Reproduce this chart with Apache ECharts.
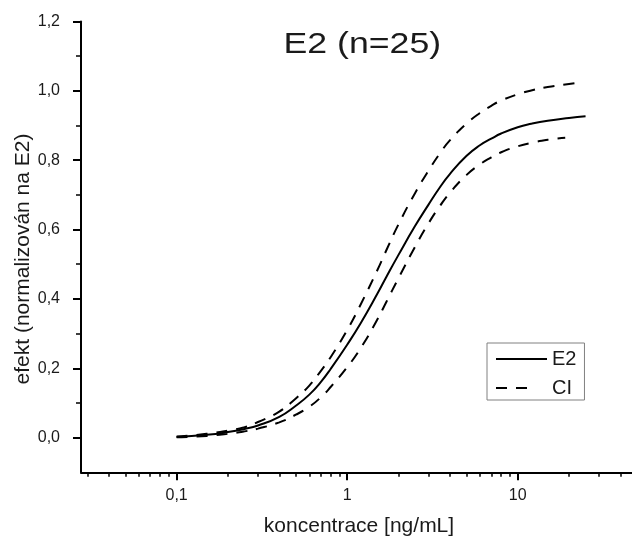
<!DOCTYPE html>
<html>
<head>
<meta charset="utf-8">
<title>E2 (n=25)</title>
<script src="https://cdn.jsdelivr.net/npm/echarts@6/dist/echarts.min.js"></script>
<style>
  html, body { margin: 0; padding: 0; background: #fff; }
  #chart { width: 632px; height: 539px; }
</style>
</head>
<body>
<div id="chart"></div>
<script>
// Dose–response curve for E2 with its confidence band (log concentration axis)
const e2Conc   = [0.1, 0.15, 0.2, 0.25, 0.3, 0.4, 0.5, 0.6, 0.7, 0.8, 1, 1.2, 1.5, 1.7, 2, 2.5, 3, 3.5, 4, 5, 6, 7, 8, 10, 12, 15, 20, 25];
const e2Effect = [0.002, 0.008, 0.016, 0.025, 0.035, 0.060, 0.092, 0.124, 0.160, 0.198, 0.268, 0.330, 0.414, 0.464, 0.527, 0.610, 0.672, 0.722, 0.760, 0.812, 0.843, 0.862, 0.877, 0.895, 0.905, 0.914, 0.922, 0.927];

const ciUpperConc   = [0.1, 0.15, 0.2, 0.25, 0.3, 0.4, 0.5, 0.6, 0.7, 0.8, 1, 1.2, 1.5, 1.7, 2, 2.5, 3, 3.5, 4, 5, 6, 7, 8, 10, 12, 15, 20, 23];
const ciUpperEffect = [0.003, 0.011, 0.020, 0.030, 0.045, 0.075, 0.113, 0.150, 0.192, 0.232, 0.310, 0.384, 0.482, 0.541, 0.615, 0.705, 0.770, 0.820, 0.857, 0.905, 0.936, 0.957, 0.972, 0.990, 1.001, 1.011, 1.020, 1.024];

const ciLowerConc   = [0.1, 0.15, 0.2, 0.25, 0.3, 0.4, 0.5, 0.6, 0.7, 0.8, 1, 1.2, 1.5, 1.7, 2, 2.5, 3, 3.5, 4, 5, 6, 7, 8, 10, 12, 15, 19];
const ciLowerEffect = [0.001, 0.005, 0.011, 0.018, 0.026, 0.044, 0.066, 0.089, 0.116, 0.146, 0.203, 0.258, 0.340, 0.392, 0.460, 0.550, 0.618, 0.668, 0.706, 0.757, 0.788, 0.808, 0.823, 0.840, 0.850, 0.859, 0.865];

// Axis ticks
const xMajorTicks  = [0.1, 1, 10];
const xMajorLabels = ['0,1', '1', '10'];
const xMinorTicks  = [0.03, 0.04, 0.05, 0.06, 0.07, 0.08, 0.09,
                      0.2, 0.3, 0.4, 0.5, 0.6, 0.7, 0.8, 0.9,
                      2, 3, 4, 5, 6, 7, 8, 9,
                      20, 30, 40];
const yMajorTicks  = [0, 0.2, 0.4, 0.6, 0.8, 1.0, 1.2];
const yMinorTicks  = [0.1, 0.3, 0.5, 0.7, 0.9, 1.1];

const xRange = [0.0275, 46.8];
const yRange = [-0.1, 1.2];

const lg = v => Math.log10(v);
const pairs = (xs, ys) => xs.map((x, i) => [lg(x), ys[i]]);

const FONT = '"Liberation Sans", Arial, sans-serif';
const INK = '#000';
const TXT = '#1a1a1a';
const DASH = [11, 9];

const chart = echarts.init(document.getElementById('chart'), null, { renderer: 'canvas' });

const baseX = {
  type: 'value',
  gridIndex: 0,
  position: 'bottom',
  min: lg(xRange[0]),
  max: lg(xRange[1]),
  splitLine: { show: false },
  axisLine: { onZero: false }
};
const baseY = {
  type: 'value',
  gridIndex: 0,
  position: 'left',
  min: yRange[0],
  max: yRange[1],
  splitLine: { show: false },
  axisLine: { onZero: false }
};

chart.setOption({
  animation: false,
  backgroundColor: '#fff',
  grid: { left: 81, right: 0, top: 21.5, bottom: 66.7, containLabel: false, outerBoundsMode: 'none' },
  xAxis: [
    Object.assign({}, baseX, {
      axisLine: { show: true, onZero: false, lineStyle: { color: INK, width: 2 } },
      axisTick: { show: true, inside: false, length: 8, lineStyle: { color: INK, width: 2 },
                  customValues: xMajorTicks.map(lg) },
      axisLabel: {
        show: true, margin: 15, fontSize: 16, fontFamily: FONT, color: TXT,
        customValues: xMajorTicks.map(lg),
        formatter: v => {
          const i = xMajorTicks.findIndex(t => Math.abs(lg(t) - v) < 1e-6);
          return i >= 0 ? xMajorLabels[i] : '';
        }
      }
    }),
    Object.assign({}, baseX, {
      axisLine: { show: false, onZero: false },
      axisTick: { show: true, inside: false, length: 4.5, lineStyle: { color: INK, width: 1.5 },
                  customValues: xMinorTicks.map(lg) },
      axisLabel: { show: false }
    })
  ],
  yAxis: [
    Object.assign({}, baseY, {
      axisLine: { show: true, onZero: false, lineStyle: { color: INK, width: 2 } },
      axisTick: { show: true, inside: false, length: 8, lineStyle: { color: INK, width: 2 },
                  customValues: yMajorTicks },
      axisLabel: {
        show: true, margin: 21, fontSize: 16, fontFamily: FONT, color: TXT,
        customValues: yMajorTicks,
        formatter: v => v.toFixed(1).replace('.', ',')
      }
    }),
    Object.assign({}, baseY, {
      axisLine: { show: false, onZero: false },
      axisTick: { show: true, inside: false, length: 5, lineStyle: { color: INK, width: 1.5 },
                  customValues: yMinorTicks },
      axisLabel: { show: false }
    })
  ],
  legend: {
    orient: 'vertical',
    left: 487,
    top: 343,
    padding: [6, 8, 2, 8],
    itemGap: 9,
    itemWidth: 51,
    itemHeight: 20,
    borderColor: '#808080',
    borderWidth: 1,
    backgroundColor: '#fff',
    selectedMode: false,
    itemStyle: { color: 'rgba(0,0,0,0)', borderWidth: 0, opacity: 0 },
    textStyle: { fontSize: 20, fontFamily: FONT, color: TXT },
    data: [
      { name: 'E2' },
      { name: 'CI', lineStyle: { type: [11, 9, 11, 40] } }
    ]
  },
  series: [
    {
      name: 'E2', type: 'line', xAxisIndex: 0, yAxisIndex: 0,
      data: pairs(e2Conc, e2Effect),
      smooth: 0.5, symbol: 'none',
      lineStyle: { color: INK, width: 2 }, itemStyle: { color: INK },
      z: 3
    },
    {
      name: 'CI', type: 'line', xAxisIndex: 0, yAxisIndex: 0,
      data: pairs(ciUpperConc, ciUpperEffect),
      smooth: 0.5, symbol: 'none',
      lineStyle: { color: INK, width: 2, type: DASH }, itemStyle: { color: INK },
      z: 2
    },
    {
      name: 'CI', type: 'line', xAxisIndex: 0, yAxisIndex: 0,
      data: pairs(ciLowerConc, ciLowerEffect),
      smooth: 0.5, symbol: 'none',
      lineStyle: { color: INK, width: 2, type: DASH }, itemStyle: { color: INK },
      z: 2
    }
  ],
  graphic: [
    {
      type: 'text', x: 362.3, y: 45, scaleX: 1.23, scaleY: 1,
      style: { text: 'E2 (n=25)', fontSize: 29, fontFamily: FONT, fill: TXT,
               align: 'center', verticalAlign: 'middle', textAlign: 'center', textVerticalAlign: 'middle' }
    },
    {
      type: 'text', x: 359, y: 526.5,
      style: { text: 'koncentrace [ng/mL]', fontSize: 21, fontFamily: FONT, fill: TXT,
               align: 'center', verticalAlign: 'middle', textAlign: 'center', textVerticalAlign: 'middle' }
    },
    {
      type: 'text', x: 23.2, y: 259, rotation: Math.PI / 2,
      style: { text: 'efekt (normalizován na E2)', fontSize: 21, fontFamily: FONT, fill: TXT,
               align: 'center', verticalAlign: 'middle', textAlign: 'center', textVerticalAlign: 'middle' }
    }
  ]
});
</script>
</body>
</html>
